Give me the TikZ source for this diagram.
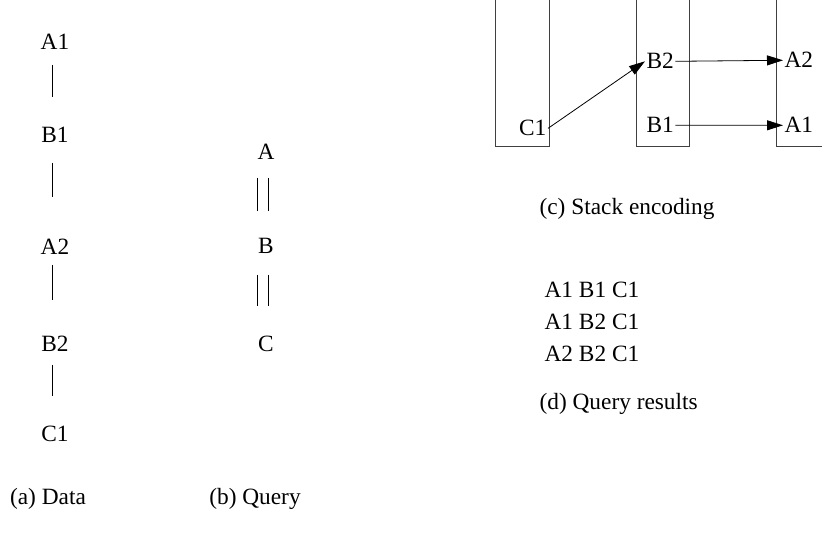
\documentclass[tikz,border=0pt]{standalone}
\usepackage{fontspec}
\setmainfont{Liberation Serif}
\usetikzlibrary{arrows.meta}
\begin{document}
\begin{tikzpicture}[x=0.75pt,y=-0.75pt,
  lbl/.style={inner sep=1pt,anchor=base,font=\fontsize{17.5}{21}\selectfont},
  rule/.style={line width=0.6pt,black},
  stk/.style={line width=0.7pt,black!75},
  arr/.style={line width=0.6pt,-{Triangle[length=12pt,width=7.5pt]}}]
\useasboundingbox (0,0) rectangle (822,541);
% (a) Data
\node[lbl] (a1) at (55,50) {A1};
\node[lbl] (b1) at (55,143) {B1};
\node[lbl] (a2) at (55,255) {A2};
\node[lbl] (b2) at (55,352) {B2};
\node[lbl] (c1) at (55,442) {C1};
\coordinate (l1a) at (52,65); \coordinate (l1b) at (52,97);
\coordinate (l2a) at (52,163); \coordinate (l2b) at (52,197);
\coordinate (l3a) at (52,265); \coordinate (l3b) at (52,300);
\coordinate (l4a) at (52,365); \coordinate (l4b) at (52,396);
\draw[rule] (l1a) -- (l1b);
\draw[rule] (l2a) -- (l2b);
\draw[rule] (l3a) -- (l3b);
\draw[rule] (l4a) -- (l4b);
\node[lbl] (capa) at (48,505) {(a) Data};
% (b) Query
\node[lbl] (qa) at (266,160) {A};
\node[lbl] (qb) at (266,254) {B};
\node[lbl] (qc) at (266,352) {C};
\coordinate (d1a) at (257,178); \coordinate (d1b) at (257,211);
\coordinate (d2a) at (268,178); \coordinate (d2b) at (268,211);
\coordinate (d3a) at (257,275); \coordinate (d3b) at (257,306);
\coordinate (d4a) at (268,275); \coordinate (d4b) at (268,306);
\draw[rule] (d1a) -- (d1b);
\draw[rule] (d2a) -- (d2b);
\draw[rule] (d3a) -- (d3b);
\draw[rule] (d4a) -- (d4b);
\node[lbl] (capb) at (255,505) {(b) Query};
% (c) Stack encoding
\draw[stk] (495,0) -- (495,146) -- (549,146) -- (549,0);
\draw[stk] (636,0) -- (636,146) -- (689,146) -- (689,0);
\draw[stk] (776,0) -- (776,146) -- (823,146);
\node[lbl,anchor=base east] (sc1) at (548,136) {C1};
\node[lbl,anchor=base west] (sb2) at (645,69) {B2};
\node[lbl,anchor=base west] (sb1) at (645,133) {B1};
\node[lbl,anchor=base west] (sa2) at (783,68) {A2};
\node[lbl,anchor=base west] (sa1) at (783,133) {A1};
\draw[arr] (sc1.east) -- (sb2.west);
\draw[arr] (sb2.east) -- (sa2.west);
\draw[arr] (sb1.east) -- (sa1.west);
\node[lbl,anchor=base west] (capc) at (538,215) {(c) Stack encoding};
% (d) Query results
\node[lbl,anchor=base west] (r1) at (543,298) {A1 B1 C1};
\node[lbl,anchor=base west] (r2) at (543,330) {A1 B2 C1};
\node[lbl,anchor=base west] (r3) at (543,362) {A2 B2 C1};
\node[lbl,anchor=base west] (capd) at (538,410) {(d) Query results};
\end{tikzpicture}
\end{document}
